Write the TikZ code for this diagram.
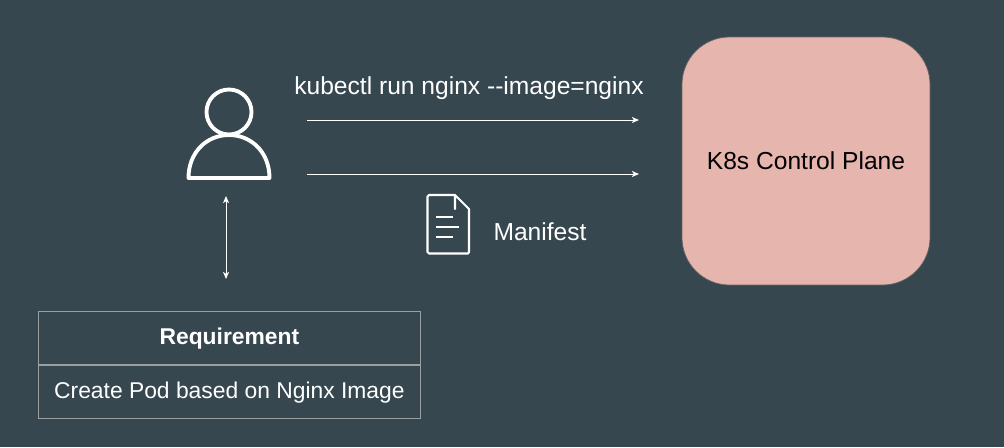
\documentclass[tikz,border=0pt]{standalone}
\usepackage{fontspec}
\setmainfont{Liberation Sans}
\usetikzlibrary{positioning, arrows.meta}
\definecolor{slate}{HTML}{37474F}
\definecolor{blush}{HTML}{E6B6AE}
\definecolor{tablegrey}{HTML}{9A9FA2}
\tikzset{
  lightlabel/.style = {text = white, font = \fontsize{14}{16}\selectfont, inner sep = 0},
  flowline/.style = {draw = white, line width = 0.55pt, -{Stealth[length = 4pt, width = 3.4pt, inset = 1pt]}},
  iconline/.style = {draw = white, line width = 2.2pt, line join = round, line cap = round},
  docline/.style = {draw = white, line width = 1.2pt, line join = round},
  tablecell/.style = {draw = tablegrey, line width = 0.5pt, minimum width = 7.64cm,
    minimum height = 1.06cm, inner sep = 0, text = white, text height = 0.38cm,
    text depth = 0.1cm, align = center, font = \fontsize{13}{15}\selectfont}
}
\begin{document}
\begin{tikzpicture}[x = 0.02cm, y = -0.02cm]
  \useasboundingbox[fill = slate] (0, 0) rectangle (1004, 447);
  % user icon
  \draw[iconline] (229, 112) circle (22.5);
  \draw[iconline] (188.5, 178) .. controls (188.5, 152) and (207, 135) .. (229, 135)
  .. controls (251, 135) and (269.5, 152) .. (269.5, 178) -- cycle;
  % requirement table
  \node[tablecell, anchor = north west] (head) at (38, 311)
  {\textbf{Requirement}};
  \node[tablecell, below = 0cm of head] (body)
  {Create Pod based on Nginx Image};
  % link user and requirement
  \coordinate (usertop) at (226, 196);
  \coordinate (userbot) at (226, 279);
  \draw[flowline, {Stealth[length = 4pt, width = 3.4pt, inset = 1pt]}-{Stealth[length = 4pt, width = 3.4pt, inset = 1pt]}]
  (usertop) -- (userbot);
  % control plane
  \node[draw = black!60, fill = blush, rounded corners = 0.95cm, minimum size = 4.96cm,
  text = black, font = \fontsize{14}{16}\selectfont, inner sep = 0] (plane)
  at (806, 161) {K8s Control Plane};
  % commands
  \coordinate (cmdstart) at (307, 120);
  \coordinate (cmdend) at (639, 120);
  \coordinate (manstart) at (307, 174);
  \coordinate (manend) at (639, 174);
  \draw[flowline] (cmdstart) -- (cmdend);
  \draw[flowline] (manstart) -- (manend);
  \node[lightlabel] (cmd) at (469, 88) {kubectl run nginx {-}{-}image=nginx};
  % manifest file
  \draw[docline] (455, 195) -- (429, 195) -- (427.5, 196.5) -- (427.5, 252) -- (429, 253.5)
  -- (468, 253.5) -- (469, 252) -- (469, 209) -- (455, 195) -- (455, 209) -- cycle;
  \draw[docline] (436, 217) -- (453, 217);
  \draw[docline] (436, 227) -- (459, 227);
  \draw[docline] (436, 237) -- (453, 237);
  \node[lightlabel] (manifest) at (540, 232) {Manifest};
\end{tikzpicture}
\end{document}
